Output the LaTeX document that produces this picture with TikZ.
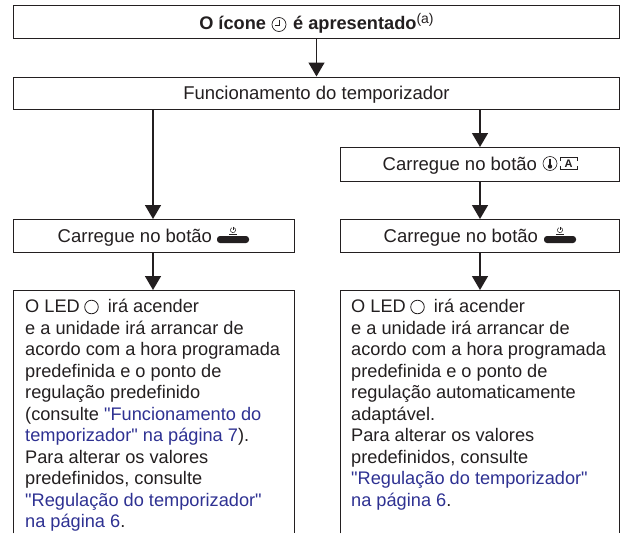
\documentclass[tikz,border=0pt]{standalone}
\usepackage{fontspec}
\newfontfamily\basefont{Liberation Sans}
\definecolor{ink}{HTML}{231F20}
\definecolor{linkblue}{HTML}{2E3192}
\newcommand{\lk}[1]{\textcolor{linkblue}{#1}}
\newcommand{\dn}[1]{\rule[-2pt]{0pt}{17pt}\smash{#1}}
\newcommand{\dnhead}[1]{\rule[-1pt]{0pt}{17pt}\smash{#1}}
\newcommand{\bodysize}{\fontsize{18.2}{21.5}\selectfont}
\newcommand{\boxsize}{\fontsize{18.5}{21.5}\selectfont}
\usetikzlibrary{arrows.meta}
\tikzset{
  x=1pt,y=-1pt,
  boxed/.style={draw=ink,line width=0.9pt,fill=white,text=ink,inner sep=0pt,font=\basefont\boxsize,align=center,anchor=north west},
  opentext/.style={text=ink,inner sep=0pt,font=\basefont\bodysize,align=left,anchor=north west},
  flow/.style={draw=ink,line width=1.5pt,-{Triangle[length=14pt,width=16pt]},shorten >=0pt},
  frame/.style={draw=ink,line width=0.9pt},
  powerbtn/.pic={
    \fill[ink,rounded corners=3pt] (-16,-3.5) rectangle (16,3.5);
    \draw[ink,line width=0.5pt] (-3.7,-5.7) -- (3.7,-5.7);
    \draw[ink,line width=0.5pt] (0,-13) -- (0,-10);
    \draw[ink,line width=0.5pt] (-1.3,-11.7) arc[start angle=240,delta angle=-300,radius=2.6];
  },
  ledmark/.pic={\draw[ink,line width=0.8pt] (0,0) circle[radius=6.8];}
}
\begin{document}
\begin{tikzpicture}
\useasboundingbox (0,0) rectangle (621,533);
\node[boxed,minimum width=606pt,minimum height=33pt,font=\basefont\bodysize] (head) at (13,5) {\dnhead{\bfseries O ícone \hspace{17pt} é apresentado\raisebox{6pt}{\mdseries\fontsize{14}{14}\selectfont(a)}}};
\node[boxed,minimum width=606pt,minimum height=32pt] (func) at (13,76.5) {\dn{Funcionamento do temporizador}};
\node[boxed,minimum width=279pt,minimum height=34pt] (tempbtn) at (340,147) {\dn{Carregue no botão \hspace{35pt}}};
\node[boxed,minimum width=281pt,minimum height=33pt] (leftbtn) at (13,219) {\dn{Carregue no botão \hspace{33pt}}};
\node[boxed,minimum width=279pt,minimum height=33pt] (rightbtn) at (340,219) {\dn{Carregue no botão \hspace{33pt}}};
\node[minimum width=281pt,minimum height=243pt,inner sep=0pt,anchor=north west] (leftinfo) at (13,290) {};
\node[minimum width=279pt,minimum height=243pt,inner sep=0pt,anchor=north west] (rightinfo) at (340,290) {};
\draw[frame] (leftinfo.south west) |- (leftinfo.north east) -- (leftinfo.south east);
\draw[frame] (rightinfo.south west) |- (rightinfo.north east) -- (rightinfo.south east);
\node[opentext] (lefttext) at (25,299) {O LED \hspace{18pt} irá acender\\
e a unidade irá arrancar de\\
acordo com a hora programada\\
predefinida e o ponto de\\
regulação predefinido\\
(consulte \lk{"Funcionamento do}\\
\lk{temporizador" na página 7}).\\
Para alterar os valores\\
predefinidos, consulte\\
\lk{"Regulação do temporizador"}\\
\lk{na página 6}.};
\node[opentext] (righttext) at (351,299) {O LED \hspace{18pt} irá acender\\
e a unidade irá arrancar de\\
acordo com a hora programada\\
predefinida e o ponto de\\
regulação automaticamente\\
adaptável.\\
Para alterar os valores\\
predefinidos, consulte\\
\lk{"Regulação do temporizador"}\\
\lk{na página 6}.};
\draw[flow] (head.south -| 316.5,0) -- (func.north -| 316.5,0);
\draw[flow] (func.south -| 153,0) -- (leftbtn.north -| 153,0);
\draw[flow] (func.south -| 480,0) -- (tempbtn.north -| 480,0);
\draw[flow] (tempbtn.south -| 480,0) -- (rightbtn.north -| 480,0);
\draw[flow] (leftbtn.south -| 153,0) -- (leftinfo.north -| 153,0);
\draw[flow] (rightbtn.south -| 480,0) -- (rightinfo.north -| 480,0);
% icons
\pic at (233,239.5) {powerbtn};
\pic at (560,239.5) {powerbtn};
\pic at (91.5,307) {ledmark};
\pic at (417.5,307) {ledmark};
% clock
\draw[ink,line width=0.7pt] (279,24.5) circle[radius=7];
\draw[ink,line width=0.7pt] (279.5,19.5) -- (279.5,25) -- (274.5,25);
% thermometer + auto icons
\draw[ink,line width=0.6pt] (550,163.5) circle[radius=7];
\draw[ink,line width=1.6pt] (550,158.5) -- (550,166);
\fill[ink] (550,166.5) circle[radius=2.2];
\draw[ink,line width=0.8pt] (560.5,161) |- (577,157.5) -- (577,161);
\draw[ink,line width=0.8pt] (560.5,165.5) |- (577,169.5) -- (577,165.5);
\node[inner sep=0pt,text=ink,font=\basefont\fontsize{11}{11}\selectfont\bfseries] (autolabel) at (568.7,163.5) {A};
\end{tikzpicture}
\end{document}
